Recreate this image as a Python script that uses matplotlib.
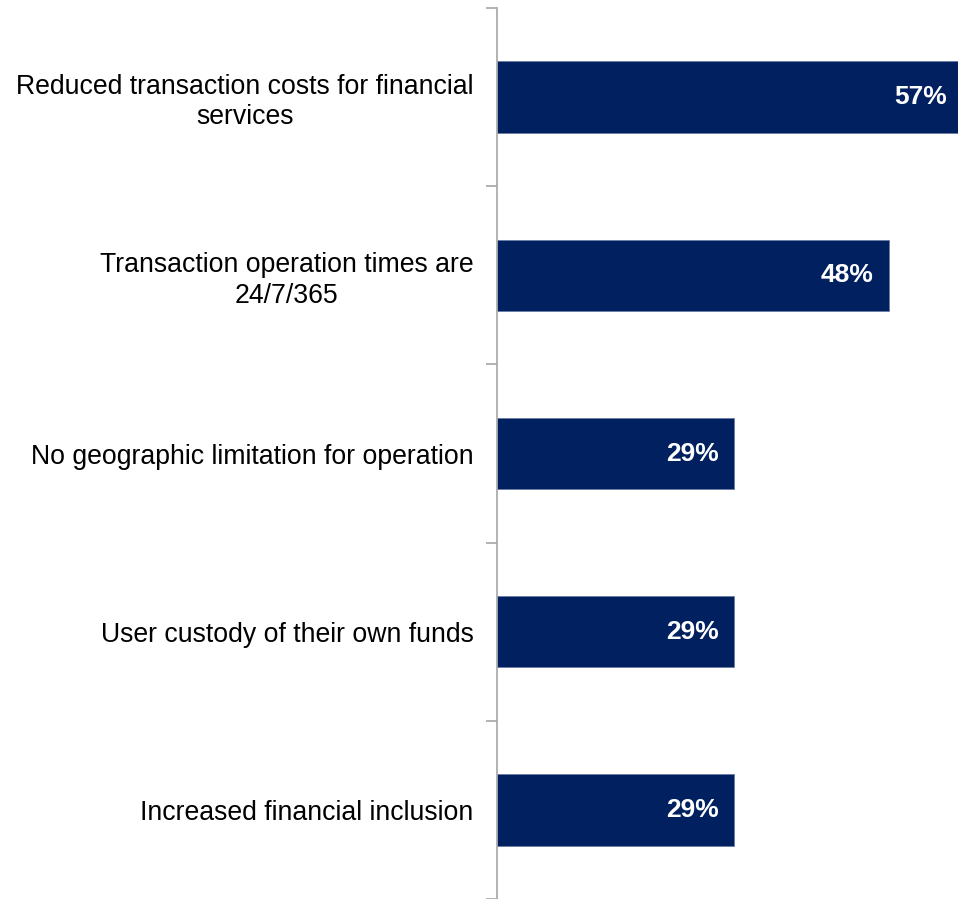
import matplotlib.pyplot as plt

# survey answers, top to bottom
labels = ["Reduced transaction costs for financial\nservices",
          "Transaction operation times are\n24/7/365",
          "No geographic limitation for operation",
          "User custody of their own funds",
          "Increased financial inclusion"]
values = [57, 48, 29, 29, 29]

plt.rcParams['font.family'] = ['Liberation Sans', 'DejaVu Sans']

fig = plt.figure(figsize=(9.58, 8.99), dpi=100)
ax = fig.add_axes([497/958, 0, 1 - 497/958, 891/899])

pos = list(range(len(labels)))
ax.barh(pos, values, height=0.4, color='#002060', edgecolor='#6a7ba3', linewidth=0.6)

for p, v in zip(pos, values):
    ax.text(v - 1.8, p, f"{v}%", ha='right', va='center', color='white',
            fontsize=19, fontweight='bold')

ax.set_xlim(0, 56.5)
ax.set_ylim(len(labels) - 0.5, -0.5)

# label text placed left of the axis, ticks at category edges
ax.set_yticks([i - 0.5 for i in range(len(labels) + 1)])
ax.set_yticklabels([])
ax.set_yticks(pos, minor=True)
ax.set_yticklabels(labels, minor=True, fontsize=19.2, ha='right',
                   multialignment='center', linespacing=1.22)
ax.tick_params(axis='y', which='minor', length=0, pad=17)
ax.tick_params(axis='y', which='major', length=8, color='#a6a6a6', width=1.2)

ax.set_xticks([])
for s in ['top', 'right', 'bottom']:
    ax.spines[s].set_visible(False)
ax.spines['left'].set_color('#a6a6a6')
ax.spines['left'].set_linewidth(1.2)
ax.patch.set_alpha(0)

fig.savefig("out.png", dpi=100)
